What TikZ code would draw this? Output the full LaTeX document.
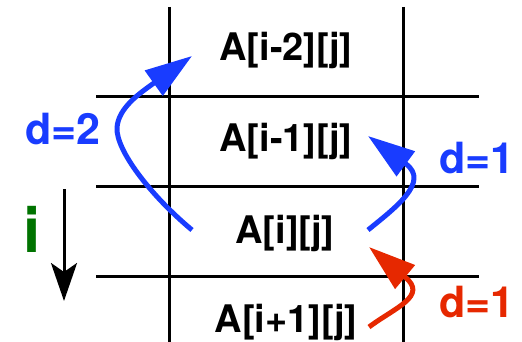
\documentclass[tikz,border=0pt]{standalone}
\usepackage{fontspec}
\setmainfont{TeX Gyre Heros}
\usetikzlibrary{arrows.meta}
\definecolor{myblue}{RGB}{25,60,255}
\definecolor{myred}{RGB}{230,40,0}
\definecolor{mygreen}{RGB}{0,115,0}
\begin{document}
\begin{tikzpicture}[x=1pt,y=-1pt,
  gridline/.style={line width=3pt},
  cell/.style={font=\fontsize{38}{40}\selectfont\bfseries, anchor=base, inner sep=0pt},
  lab/.style={font=\fontsize{43}{45}\selectfont\bfseries, anchor=base, inner sep=0pt},
  hookarrow/.style={line width=5pt, line join=round, -{Triangle[length=47pt,width=30pt]}}]
\useasboundingbox (0,0) rectangle (522,342);
% grid
\draw[gridline] (169,7) -- (169,342);
\draw[gridline] (403,7) -- (403,342);
\draw[gridline] (96,97) -- (479,97);
\draw[gridline] (96,186) -- (479,186);
\draw[gridline] (96,276) -- (479,276);
% cells
\node[cell] (am2) at (286,61) {A[i-2][j]};
\node[cell] (am1) at (286,152) {A[i-1][j]};
\node[cell] (a0) at (285,243) {A[i][j]};
\node[cell] (ap1) at (286,332) {A[i+1][j]};
% labels
\node[lab, text=myblue] (d2) at (63,145) {d=2};
\node[lab, text=myblue] (d1b) at (477,173) {d=1};
\node[lab, text=myred] (d1r) at (477,317) {d=1};
\node[font=\fontsize{62}{64}\selectfont\bfseries, anchor=base, inner sep=0pt, text=mygreen] (ilab) at (32,252) {i};
% index arrow
\coordinate (itop) at (64,189);
\coordinate (ibot) at (64,301);
\draw[line width=3pt, -{Stealth[length=38pt,width=26pt,inset=9pt]}] (itop) -- (ibot);
% d=2 arrow
\coordinate (s2) at (192,230);
\coordinate (b2) at (154,83);
\coordinate (t2) at (192,56);
\draw[hookarrow, myblue] (s2) .. controls (150,195) and (116,150) .. (117,128)
  .. controls (118,108) and (140,93) .. (b2) -- (t2);
% d=1 blue arrow
\coordinate (s1) at (368,230);
\coordinate (b1) at (406,164);
\coordinate (t1) at (368,136);
\draw[hookarrow, myblue] (s1) .. controls (395,208) and (430,182) .. (b1) -- (t1);
% d=1 red arrow
\coordinate (s3) at (369,327);
\coordinate (b3) at (405,277);
\coordinate (t3) at (369,247);
\draw[hookarrow, myred] (s3) .. controls (396,307) and (428,296) .. (b3) -- (t3);
\end{tikzpicture}
\end{document}
